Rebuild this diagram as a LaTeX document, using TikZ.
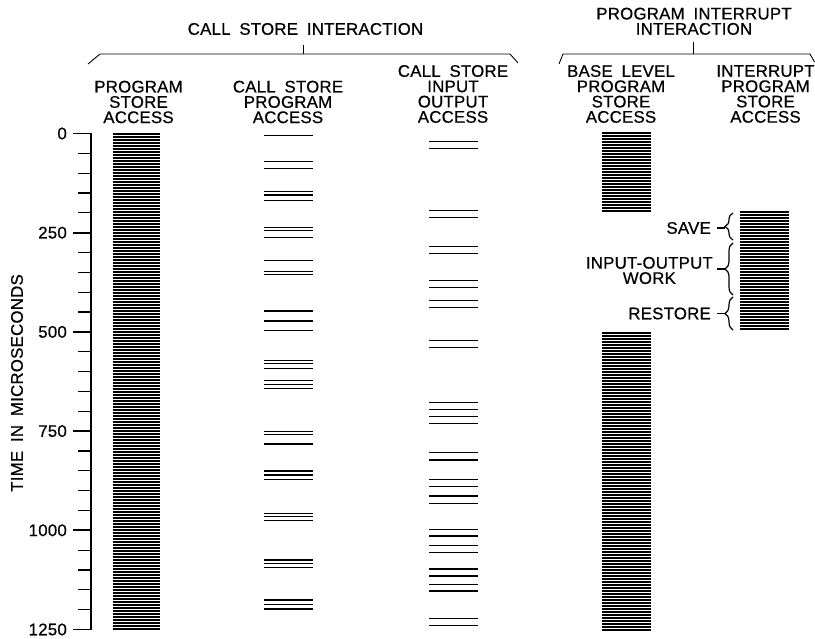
\documentclass[tikz,border=0pt]{standalone}
\usepackage{fontspec}
\setmainfont{Liberation Sans}[WordSpace=1.8,LetterSpace=1.5,FakeBold=0.6]
\usetikzlibrary{decorations.pathreplacing}
\begin{document}
\begin{tikzpicture}[x=1pt,y=-1pt,
  lbl/.style={inner sep=0pt, font=\fontsize{16.8}{15.3}\selectfont, align=center},
  bar/.style={line width=1.25pt, line cap=butt},
  ax/.style={line width=1.7pt},
  tk/.style={line width=1.2pt},
  brk/.style={line width=0.9pt},
  brc/.style={line width=1.2pt, decorate, decoration={brace, amplitude=8pt}},
]
\useasboundingbox (0,0) rectangle (815,639);
\fill[white] (0,0) rectangle (815,639);

% titles and brackets
\node[lbl] (csi) at (305.5,29) {CALL STORE INTERACTION};
\draw[brk] (88,64) -- (100,54) -- (510,54) -- (518,63);
\draw[brk] (303,54) -- (303,45);
\node[lbl] (pii) at (694,21.3) {PROGRAM INTERRUPT\\INTERACTION};
\draw[brk] (559,64) -- (563,54) -- (810,54) -- (814.5,62);
\draw[brk] (693,54) -- (693,42);

% column headers
\node[lbl] (h1) at (138.5,102) {PROGRAM\\STORE\\ACCESS};
\node[lbl] (h2) at (288,102) {CALL STORE\\PROGRAM\\ACCESS};
\node[lbl] (h3) at (453,94) {CALL STORE\\INPUT\\OUTPUT\\ACCESS};
\node[lbl] (h4) at (621,94) {BASE LEVEL\\PROGRAM\\STORE\\ACCESS};
\node[lbl] (h5) at (765.5,94) {INTERRUPT\\PROGRAM\\STORE\\ACCESS};

% time axis
\draw[ax] (91,133.5) -- (91,630);
\foreach \t in {50,100,...,1200} \draw[tk] (78,{133.5+0.3968*\t}) -- (91,{133.5+0.3968*\t});
\foreach \t in {0,250,...,1250} \draw[ax] (73,{133.5+0.3968*\t}) -- (91,{133.5+0.3968*\t});
\node[lbl,anchor=east] (t0) at (67,133.5) {0};
\node[lbl,anchor=east] (t250) at (67,232.7) {250};
\node[lbl,anchor=east] (t500) at (67,331.9) {500};
\node[lbl,anchor=east] (t750) at (67,431.1) {750};
\node[lbl,anchor=east] (t1000) at (67,530.3) {1000};
\node[lbl,anchor=east] (t1250) at (67,629.5) {1250};
\node[lbl,rotate=90] (ylab) at (17,383) {TIME IN MICROSECONDS};

% column 1: program store access
\foreach \i in {0,...,165} \draw[bar] (112.5,{134+3*\i}) -- (160,{134+3*\i});

% column 2: call store program access
\foreach \y in {135.3,161.7,168.3,191.7,195,200.7,227.3,230.7,237.7,260.3,271.7,274.3,311,321,330.7,360.3,363.3,368.3,380.7,384.3,388.3,431.7,434.3,444,471,475,479.3,513.3,516.7,520.7,560,563.3,567.3,600,604.3,609}
  \draw[bar] (264,\y) -- (313,\y);

% column 3: call store input output access
\foreach \y in {141.7,148.3,210.7,217.7,246.7,253.7,280.3,287.3,300.3,307.7,340.3,347.7,402.7,409.7,416.3,423.3,452.7,460,479.3,486.7,496,503.3,529.3,536,545.7,552.7,569,576,584.3,591,618.3,625.7}
  \draw[bar] (429,\y) -- (478,\y);

% column 4: base level program store access
\foreach \i in {0,...,26} \draw[bar] (602,{133+3*\i}) -- (651,{133+3*\i});
\foreach \i in {0,...,99} \draw[bar] (602,{333+3*\i}) -- (651,{333+3*\i});

% column 5: interrupt program store access
\foreach \i in {0,...,39} \draw[bar] (740,{212+3*\i}) -- (789,{212+3*\i});

% braces and labels
\draw[brc] (733,240) -- (733,213);
\coordinate (sv) at (725,228);
\node[lbl,anchor=east] (save) at (711,228) {SAVE};
\draw[tk] (save.east) ++(6,0) -- (sv);
\draw[brc] (733,295) -- (733,243);
\coordinate (io) at (725,269);
\node[lbl,anchor=east] (iow) at (713,270.5) {INPUT-OUTPUT\\WORK};
\draw[tk] (iow.east) ++(4,-1.5) -- (io);
\draw[brc] (733,330) -- (733,297);
\coordinate (rs) at (725,313.5);
\node[lbl,anchor=east] (rest) at (711,313.5) {RESTORE};
\draw[tk] (rest.east) ++(6,0) -- (rs);
\end{tikzpicture}
\end{document}
